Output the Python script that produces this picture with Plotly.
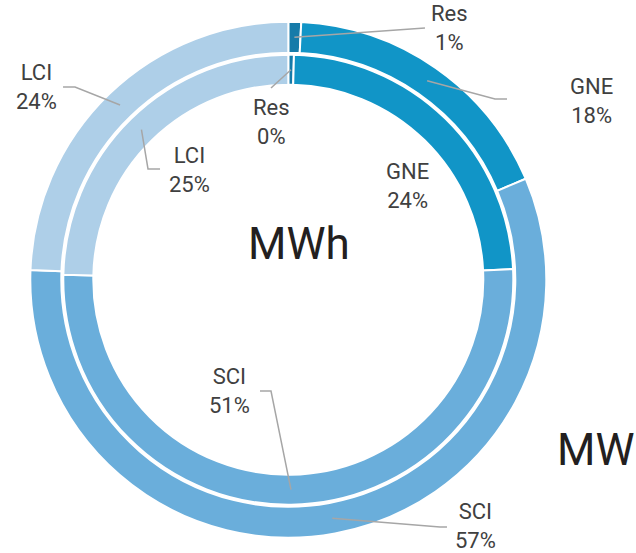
import numpy as np
import plotly.graph_objects as go

W, H = 636, 553

# data (percent)
categories = ["Res", "GNE", "SCI", "LCI"]
mw_share = [0.8, 17.8, 57.0, 24.4]     # outer ring
mwh_share = [0.4, 23.8, 51.0, 24.6]    # inner ring
ring_titles = ["MW", "MWh"]

COLOURS = ["#167BA9", "#1195C7", "#6AAEDB", "#AECFE8"]
TEXT_COL = "#404040"
LINE_COL = "#A6A6A6"

# ring geometry in pixels
CX, CY = 288.3, 279.7
OUTER_R, OUTER_HOLE_R = 258.0, 227.0
INNER_R, INNER_HOLE_R = 225.0, 195.0


def px(x, y):
    return x / W, 1 - y / H


def domain(r):
    return dict(x=[(CX - r) / W, (CX + r) / W], y=[1 - (CY + r) / H, 1 - (CY - r) / H])


def mid_points(values, r_mid):
    """centre of each slice on the ring, clockwise from 12 o'clock"""
    v = np.asarray(values, dtype=float)
    frac = v / v.sum()
    mid = np.cumsum(frac) - frac / 2
    ang = mid * 2 * np.pi
    return CX + r_mid * np.sin(ang), CY - r_mid * np.cos(ang)


def label(v):
    return str(int(np.floor(v + 0.5))) + "%"


fig = go.Figure()
for values, r, hole_r in [(mw_share, OUTER_R, OUTER_HOLE_R), (mwh_share, INNER_R, INNER_HOLE_R)]:
    fig.add_trace(
        go.Pie(
            labels=categories,
            values=values,
            sort=False,
            direction="clockwise",
            rotation=0,
            hole=hole_r / r,
            domain=domain(r),
            textinfo="none",
            hoverinfo="label+percent",
            showlegend=False,
            marker=dict(colors=COLOURS, line=dict(color="white", width=2)),
        )
    )

# label layout: (text centre, leader path after the anchor point)
outer_layout = {
    "Res": ((450, 28), [(425, 28)]),
    "GNE": ((591, 101), [(495, 99), (507, 99)]),
    "SCI": ((476, 526), [(440, 527), (447, 527)]),
    "LCI": ((36, 87), [(75, 87), (63, 87)]),
}
inner_layout = {
    "Res": ((271, 122), [(271, 88)]),
    "GNE": ((407, 186), []),
    "SCI": ((230, 391), [(271, 391), (260, 391)]),
    "LCI": ((189, 170), [(148, 169), (160, 169)]),
}

shapes = []
annotations = []
rings = [
    (mw_share, (OUTER_R + OUTER_HOLE_R) / 2, outer_layout),
    (mwh_share, (INNER_R + INNER_HOLE_R) / 2, inner_layout),
]
for values, r_mid, lay in rings:
    ax, ay = mid_points(values, r_mid)
    for i, cat in enumerate(categories):
        (tx, ty), leader = lay[cat]
        if leader:
            pts = [(ax[i], ay[i])] + leader
            path = "M " + " L ".join("%.4f,%.4f" % px(x, y) for x, y in pts)
            shapes.append(
                dict(type="path", xref="paper", yref="paper", path=path,
                     line=dict(color=LINE_COL, width=1.5), layer="above")
            )
        x, y = px(tx, ty)
        annotations.append(
            dict(x=x, y=y, xref="paper", yref="paper", showarrow=False,
                 text=cat + "<br>" + label(values[i]), align="center",
                 xanchor="center", yanchor="middle",
                 font=dict(family="Roboto", size=22, color=TEXT_COL))
        )

for title, (tx, ty) in zip(ring_titles, [(595, 450), (299, 244)]):
    x, y = px(tx, ty)
    annotations.append(
        dict(x=x, y=y, xref="paper", yref="paper", showarrow=False, text=title,
             xanchor="center", yanchor="middle",
             font=dict(family="Roboto", size=44, color="#231F20"))
    )

fig.update_layout(
    width=W,
    height=H,
    autosize=False,
    margin=dict(l=0, r=0, t=0, b=0),
    paper_bgcolor="white",
    plot_bgcolor="white",
    shapes=shapes,
    annotations=annotations,
)

# drop the default page margin so the figure sits at the window corner
fig.write_html(
    "out.html",
    config={"displayModeBar": False},
    post_script="document.body.style.margin='0';document.body.style.overflow='hidden';",
)
